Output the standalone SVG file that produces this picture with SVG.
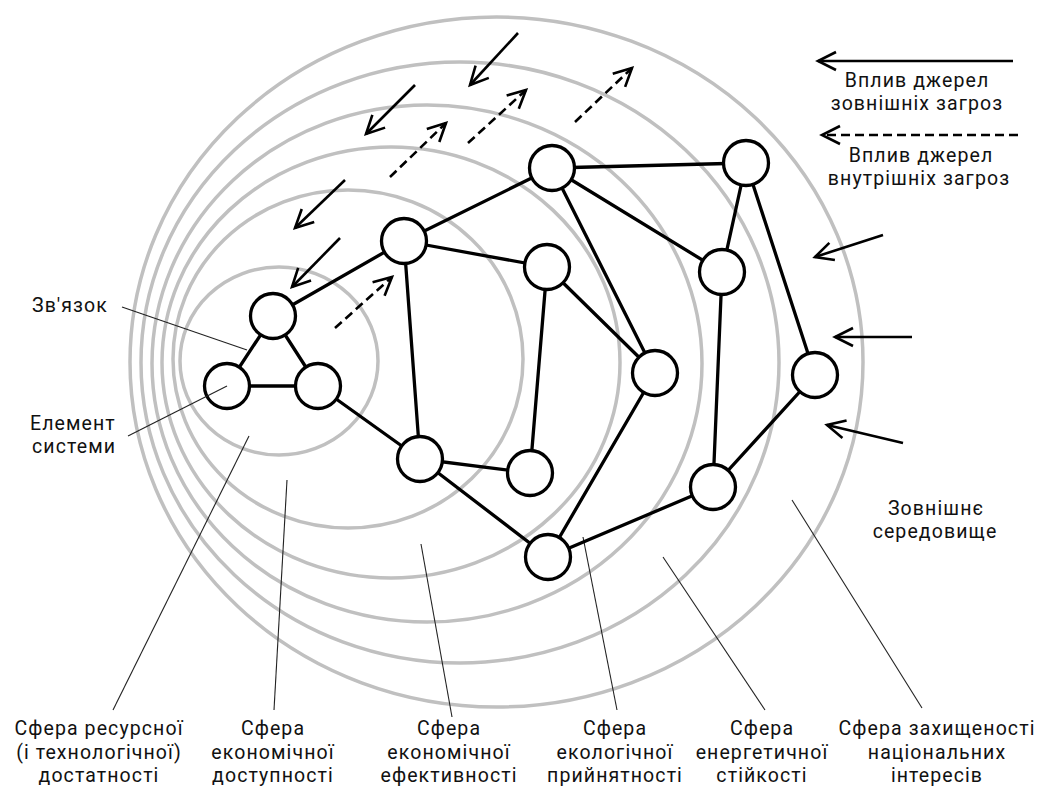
<svg xmlns="http://www.w3.org/2000/svg" width="1043" height="788" viewBox="0 0 1043 788">
<style>
.sph{fill:none;stroke:#c0c0c0;stroke-width:3.5}
.edge{stroke:#000;stroke-width:3.3;stroke-linecap:round}
.node{fill:#fff;stroke:#000;stroke-width:3.3}
.lead{stroke:#222;stroke-width:1.1;fill:none}
.arr{stroke:#000;stroke-width:2.6;fill:none;marker-end:url(#ah)}
.dash{stroke-dasharray:9,5}
.t{font-family:Roboto,"Open Sans","Noto Sans",sans-serif;font-size:19.5px;fill:#111;letter-spacing:1.1px}
.m{text-anchor:middle}
</style>
<defs>
<marker id="ah" viewBox="-22 -12 26 24" refX="0" refY="0" markerWidth="26" markerHeight="24" markerUnits="userSpaceOnUse" orient="auto">
<path d="M-18,-9 L0,0 L-18,9" fill="none" stroke="#000" stroke-width="2.6"/>
</marker>
</defs>
<rect width="1043" height="788" fill="#fff"/>
<g id="spheres">
<ellipse class="sph" cx="496.5" cy="362" rx="366.5" ry="345"/>
<ellipse class="sph" cx="460" cy="362.5" rx="319" ry="300.5"/>
<ellipse class="sph" cx="427" cy="363.5" rx="275" ry="258.5"/>
<ellipse class="sph" cx="391" cy="362.5" rx="229" ry="215.5"/>
<ellipse class="sph" cx="348" cy="359" rx="175" ry="169"/>
<ellipse class="sph" cx="279" cy="361" rx="99" ry="94"/>
</g>
<g id="leaders">
<line class="lead" x1="122" y1="307" x2="247" y2="350"/>
<line class="lead" x1="113" y1="710" x2="249" y2="436"/>
<line class="lead" x1="274" y1="710" x2="287" y2="480"/>
<line class="lead" x1="452" y1="717" x2="421" y2="544"/>
<line class="lead" x1="617" y1="710" x2="583" y2="537"/>
<line class="lead" x1="765" y1="710" x2="663" y2="557"/>
<line class="lead" x1="922" y1="708" x2="792" y2="500"/>
</g>
<g id="connectors">
<line class="edge" x1="273" y1="316" x2="227" y2="386"/>
<line class="edge" x1="273" y1="316" x2="318" y2="386"/>
<line class="edge" x1="227" y1="386" x2="318" y2="386"/>
<line class="edge" x1="273" y1="316" x2="404" y2="241"/>
<line class="edge" x1="318" y1="386" x2="420" y2="459"/>
<line class="edge" x1="404" y1="241" x2="552" y2="168"/>
<line class="edge" x1="404" y1="241" x2="547" y2="267"/>
<line class="edge" x1="404" y1="241" x2="420" y2="459"/>
<line class="edge" x1="420" y1="459" x2="530" y2="473"/>
<line class="edge" x1="420" y1="459" x2="548" y2="557"/>
<line class="edge" x1="547" y1="267" x2="530" y2="473"/>
<line class="edge" x1="552" y1="168" x2="746" y2="163"/>
<line class="edge" x1="552" y1="168" x2="655" y2="373"/>
<line class="edge" x1="552" y1="168" x2="722" y2="272"/>
<line class="edge" x1="547" y1="267" x2="655" y2="373"/>
<line class="edge" x1="746" y1="163" x2="722" y2="272"/>
<line class="edge" x1="746" y1="163" x2="815" y2="375"/>
<line class="edge" x1="722" y1="272" x2="713" y2="487"/>
<line class="edge" x1="655" y1="373" x2="548" y2="557"/>
<line class="edge" x1="548" y1="557" x2="713" y2="487"/>
<line class="edge" x1="713" y1="487" x2="815" y2="375"/>
</g>
<g id="nodes">
<circle id="n-a" class="node" cx="273" cy="316" r="22.5"/>
<circle id="n-b" class="node" cx="227" cy="386" r="22.5"/>
<circle id="n-c" class="node" cx="318" cy="386" r="22.5"/>
<circle id="n-d" class="node" cx="404" cy="241" r="22.5"/>
<circle id="n-e" class="node" cx="552" cy="168" r="22.5"/>
<circle id="n-f" class="node" cx="746" cy="163" r="22.5"/>
<circle id="n-g" class="node" cx="547" cy="267" r="22.5"/>
<circle id="n-h" class="node" cx="722" cy="272" r="22.5"/>
<circle id="n-i" class="node" cx="655" cy="373" r="22.5"/>
<circle id="n-j" class="node" cx="815" cy="375" r="22.5"/>
<circle id="n-k" class="node" cx="420" cy="459" r="22.5"/>
<circle id="n-l" class="node" cx="530" cy="473" r="22.5"/>
<circle id="n-m" class="node" cx="548" cy="557" r="22.5"/>
<circle id="n-n" class="node" cx="713" cy="487" r="22.5"/>
</g>
<line class="lead" x1="128" y1="436" x2="227" y2="386"/>
<g id="threats">
<line class="arr" x1="518" y1="33" x2="470" y2="85"/>
<line class="arr" x1="415" y1="85" x2="366" y2="134"/>
<line class="arr" x1="345" y1="180" x2="295" y2="228"/>
<line class="arr" x1="340" y1="238" x2="292" y2="287"/>
<line class="arr" x1="883" y1="235" x2="815" y2="257"/>
<line class="arr" x1="912" y1="337" x2="835" y2="337"/>
<line class="arr" x1="903" y1="443" x2="827" y2="425"/>
<line class="arr dash" x1="390" y1="177" x2="446" y2="123"/>
<line class="arr dash" x1="468" y1="143" x2="526" y2="90"/>
<line class="arr dash" x1="575" y1="122" x2="632" y2="68"/>
<line class="arr dash" x1="335" y1="328" x2="392" y2="277"/>
</g>
<g id="legend">
<line class="arr" x1="1013" y1="61" x2="818" y2="61"/>
<line class="arr dash" x1="1018" y1="135" x2="822" y2="135"/>
<text class="t m" x="917" y="87">Вплив джерел</text>
<text class="t m" x="917" y="110">зовнішніх загроз</text>
<text class="t m" x="921" y="162">Вплив джерел</text>
<text class="t m" x="919" y="185">внутрішніх загроз</text>
</g>
<g id="labels">
<text class="t" x="32" y="312">Зв'язок</text>
<text class="t" x="30" y="430">Елемент</text>
<text class="t" x="32" y="453">системи</text>
<text class="t m" x="936" y="515">Зовнішнє</text>
<text class="t m" x="935" y="538">середовище</text>
<text class="t m" x="99" y="735">Сфера ресурсної</text>
<text class="t m" x="99" y="759">(і технологічної)</text>
<text class="t m" x="99" y="782">достатності</text>
<text class="t m" x="273" y="735">Сфера</text>
<text class="t m" x="273" y="759">економічної</text>
<text class="t m" x="273" y="782">доступності</text>
<text class="t m" x="449" y="735">Сфера</text>
<text class="t m" x="449" y="759">економічної</text>
<text class="t m" x="449" y="782">ефективності</text>
<text class="t m" x="615" y="735">Сфера</text>
<text class="t m" x="615" y="759">екологічної</text>
<text class="t m" x="615" y="782">прийнятності</text>
<text class="t m" x="762" y="735">Сфера</text>
<text class="t m" x="762" y="759">енергетичної</text>
<text class="t m" x="762" y="782">стійкості</text>
<text class="t m" x="937" y="735">Сфера захищеності</text>
<text class="t m" x="937" y="759">національних</text>
<text class="t m" x="937" y="782">інтересів</text>
</g>
</svg>
